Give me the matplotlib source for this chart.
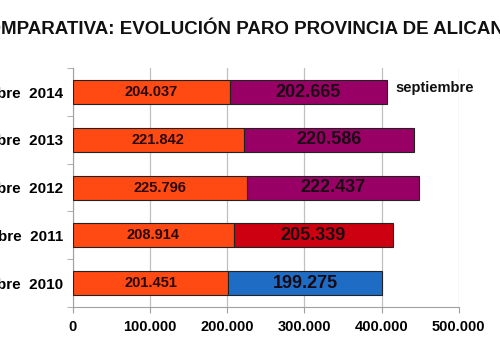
import numpy as np
import matplotlib
matplotlib.use("Agg")
import matplotlib.pyplot as plt
from matplotlib.ticker import FuncFormatter, MultipleLocator

# datos
periodos = ["septiembre  2010", "septiembre  2011", "septiembre  2012",
            "septiembre  2013", "septiembre  2014"]
serie1 = [201451, 208914, 225796, 221842, 204037]
serie2 = [199275, 205339, 222437, 220586, 202665]
colores2 = ["#1f6cc4", "#cc0010", "#990066", "#990066", "#990066"]
color1 = "#ff4a14"

plt.rcParams['font.family'] = ['Liberation Sans', 'DejaVu Sans']

fig = plt.figure(figsize=(5.0, 3.56), dpi=100)
ax = fig.add_axes([0.1454, 0.1376, 0.772, 0.671])

y = np.arange(len(periodos))
ax.barh(y, serie1, height=0.5, color=color1, edgecolor="#222222", linewidth=0.8, zorder=3)
ax.barh(y, serie2, left=serie1, height=0.5, color=colores2, edgecolor="#222222",
        linewidth=0.8, zorder=3)

def fmt(v):
    return f"{v:,}".replace(",", ".")

for i in range(len(y)):
    ax.text(serie1[i] / 2, y[i], fmt(serie1[i]), ha="center", va="center",
            fontsize=10.5, fontweight="bold", color="#2a0808", zorder=4)
    ax.text(serie1[i] + serie2[i] / 2, y[i], fmt(serie2[i]), ha="center", va="center",
            fontsize=13, fontweight="bold", color="#1a0a14", zorder=4)

ax.text(418500, 4.08, "septiembre", ha="left", va="center", fontsize=10.5,
        fontweight="bold", color="#111111")

ax.set_xlim(0, 500000)
ax.set_ylim(-0.5, 4.5)
ax.xaxis.set_major_locator(MultipleLocator(100000))
ax.xaxis.set_major_formatter(FuncFormatter(lambda v, p: fmt(int(v))))
ax.grid(axis="x", color="#c0c0c0", linewidth=0.9, zorder=0)

ax.set_yticks(y)
ax.set_yticklabels(periodos)
ax.set_yticks(np.arange(-0.5, 4.6, 1), minor=True)
ax.tick_params(axis="y", which="major", length=0, pad=7, labelsize=11)
ax.tick_params(axis="y", which="minor", length=4, color="#a0a0a0")
ax.tick_params(axis="x", length=4, color="#a0a0a0", labelsize=10.5, pad=5)
for lab in ax.get_xticklabels() + ax.get_yticklabels():
    lab.set_fontweight("bold")

for s in ["top", "right"]:
    ax.spines[s].set_visible(False)
for s in ["left", "bottom"]:
    ax.spines[s].set_color("#a0a0a0")

fig.text(0.5, 0.918, "COMPARATIVA: EVOLUCIÓN PARO PROVINCIA DE ALICANTE",
         ha="center", va="center", fontsize=13.5, fontweight="bold", color="#111111")

fig.savefig("out.png", dpi=100)
